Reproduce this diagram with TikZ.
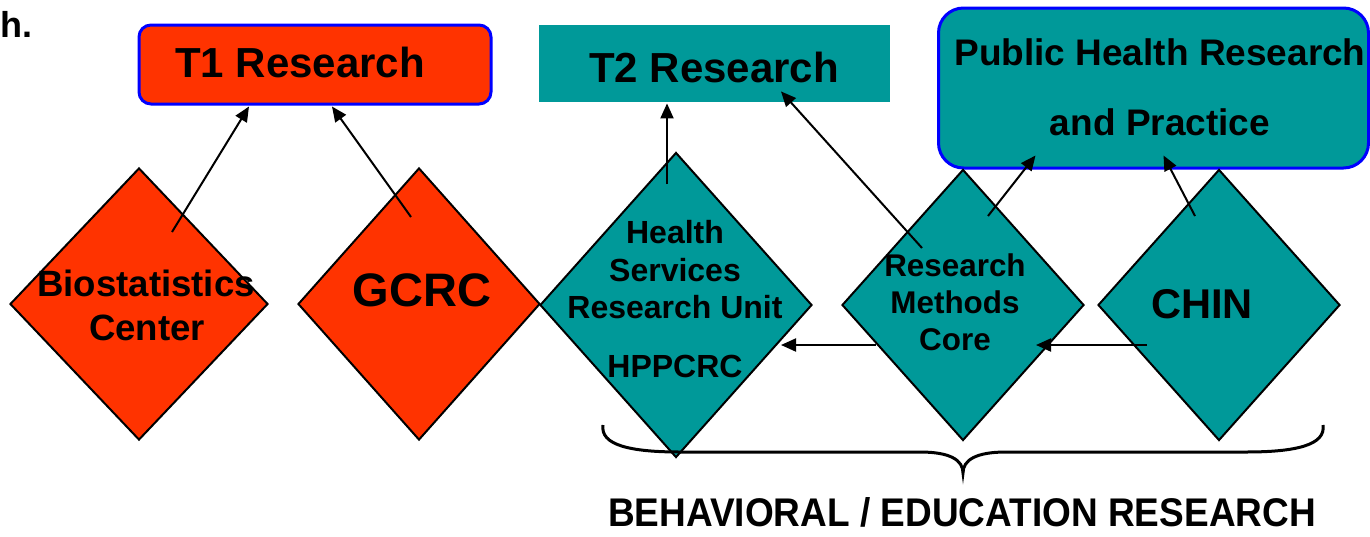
\documentclass[tikz,border=0pt]{standalone}
\usepackage{fontspec}
\setmainfont{Liberation Sans}
\usetikzlibrary{shapes.geometric,arrows.meta,calc}
\definecolor{tred}{HTML}{FF3300}
\definecolor{tteal}{HTML}{009999}
\definecolor{tblue}{HTML}{0000FF}
\newcommand{\fsz}[1]{\fontsize{#1}{#1}\selectfont\bfseries}
\begin{document}
\begin{tikzpicture}[x=0.5pt,y=-0.5pt,
  dia/.style={diamond,draw=black,line width=1pt,inner sep=0pt},
  rbox/.style={rectangle,inner sep=0pt},
  lbl/.style={anchor=base,inner sep=0pt,text=black},
  conn/.style={line width=1pt,-{Triangle[length=7.5pt,width=6.5pt]}}
]
\useasboundingbox (0,0) rectangle (1370,536);
% boxes
\node[rbox,fill=tred,draw=tblue,line width=1.5pt,rounded corners=6pt,minimum width=176pt,minimum height=39.5pt] (t1) at (315,64.5) {};
\node[rbox,fill=tteal,minimum width=175.5pt,minimum height=38.5pt] (t2) at (714.5,63.5) {};
\node[rbox,fill=tteal,draw=tblue,line width=1.5pt,rounded corners=12.5pt,minimum width=215pt,minimum height=80pt] (ph) at (1153.5,88) {};
\node[lbl] (t1l) at (300,77) {\fsz{21pt}T1 Research};
\node[lbl] (t2l) at (714,82) {\fsz{21pt}T2 Research};
\node[lbl] (phl1) at (1160,65) {\fsz{18.5pt}Public Health Research};
\node[lbl] (phl2) at (1160,135) {\fsz{18.5pt}and Practice};
% diamonds
\node[dia,fill=tred,minimum width=129pt,minimum height=136pt] (bio) at (139,304) {};
\node[dia,fill=tred,minimum width=121pt,minimum height=136pt] (gcrc) at (419,304) {};
\node[dia,fill=tteal,minimum width=136pt,minimum height=152.5pt] (hsru) at (676,305) {};
\node[dia,fill=tteal,minimum width=121pt,minimum height=135.5pt] (rmc) at (963,305) {};
\node[dia,fill=tteal,minimum width=121pt,minimum height=135.5pt] (chin) at (1219,305) {};
% diamond labels
\node[lbl] (biol1) at (146,296) {\fsz{18.3pt}Biostatistics};
\node[lbl] (biol2) at (147,340) {\fsz{18.3pt}Center};
\node[lbl] (gcrcl) at (422,306) {\fsz{23.5pt}GCRC};
\node[lbl] (hsl1) at (675,243) {\fsz{16pt}Health};
\node[lbl] (hsl2) at (675,281) {\fsz{16pt}Services};
\node[lbl] (hsl3) at (675,318) {\fsz{16pt}Research Unit};
\node[lbl] (hsl4) at (675,377) {\fsz{16pt}HPPCRC};
\node[lbl] (rml1) at (955,276) {\fsz{15.7pt}Research};
\node[lbl] (rml2) at (955,313) {\fsz{15.7pt}Methods};
\node[lbl] (rml3) at (955,350) {\fsz{15.7pt}Core};
\node[lbl] (chinl) at (1202,318) {\fsz{20.8pt}CHIN};
% connectors
\draw[conn] ($(bio.center)+(33,-72)$) -- ($(t1.south)+(-66,1)$);
\draw[conn] ($(gcrc.center)+(-8,-87)$) -- ($(t1.south)+(17,1)$);
\draw[conn] ($(hsru.center)+(-9,-121)$) -- ($(t2.south)+(-47.5,1)$);
\draw[conn] ($(rmc.center)+(-41,-57)$) -- ($(t2.south)+(66.5,-11)$);
\draw[conn] ($(rmc.center)+(25,-89)$) -- ($(ph.south)+(-118,-14)$);
\draw[conn] ($(chin.center)+(-24,-89)$) -- ($(ph.south)+(10,-14)$);
\draw[conn] ($(rmc.center)+(-87,40)$) -- ($(hsru.center)+(105,40)$);
\draw[conn] ($(chin.center)+(-72,40)$) -- ($(rmc.center)+(73,40)$);
% brace
\draw[line width=1.5pt] (603,425) .. controls (600,445) and (630,452) .. (680,452) -- (920,452)
  .. controls (950,452) and (963,460) .. (963,473)
  .. controls (963,460) and (976,452) .. (1006,452) -- (1246,452)
  .. controls (1296,452) and (1326,445) .. (1323,425);
\node[lbl] (beh) at (962,526) {\scalebox{0.925}[1]{\fsz{20pt}BEHAVIORAL / EDUCATION RESEARCH}};
\node[anchor=base west,inner sep=0pt] (hdot) at (0,37) {\fsz{18pt}h.};
\end{tikzpicture}
\end{document}
